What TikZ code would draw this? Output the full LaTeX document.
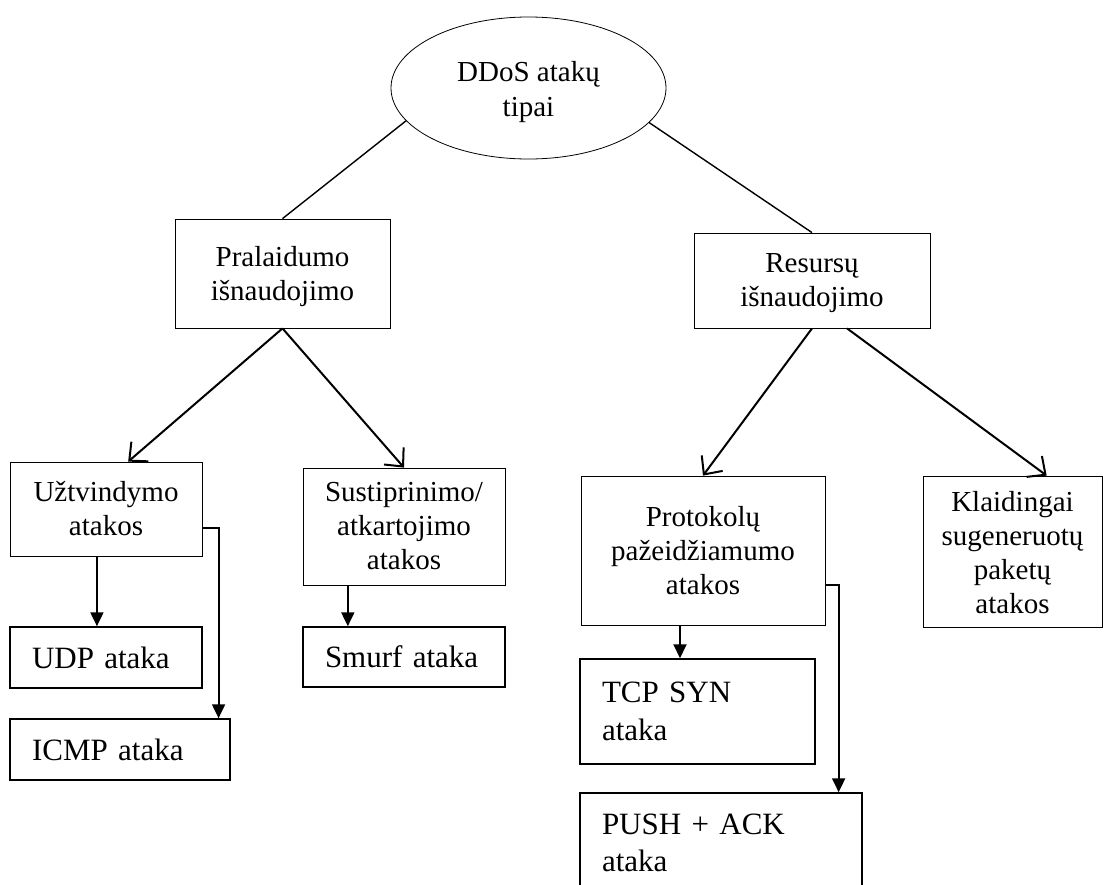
\documentclass[tikz,border=0pt]{standalone}
\usepackage{fontspec}
\setmainfont{Liberation Serif}
\usetikzlibrary{arrows.meta,shapes.geometric,calc}
% invisible strut that lowers a centred text block inside its box
\newcommand{\padtop}[1]{\rule{0pt}{#1}}
\begin{document}
\begin{tikzpicture}[x=1pt,y=-1pt,
  txtbox/.style={draw, line width=0.8pt, rectangle, align=center, inner sep=0pt,
    font=\fontsize{29}{34}\selectfont},
  leaf/.style={draw, line width=1.5pt, rectangle, align=left, inner xsep=22pt, inner ysep=0pt,
    font=\fontsize{31}{38}\selectfont},
  link/.style={line width=1.4pt},
  barb/.style={line width=2pt, -{Straight Barb[length=14pt,width=26pt,line width=2pt]}},
  tri/.style={line width=2pt, -{Triangle[length=14pt,width=13pt]}},
]
\clip (0,0) rectangle (1106,884);
\fill[white] (0,0) rectangle (1106,884);

% root
\node[ellipse, draw, line width=0.8pt, minimum width=275pt, minimum height=142pt, inner sep=0pt] (root) at (528.5,88) {};
\node[align=center, inner sep=0pt, font=\fontsize{29}{35}\selectfont] (roottext) at (528.5,92) {DDoS atakų\\tipai};

% second level
\node[txtbox, minimum width=215pt, minimum height=109pt] (pral) at (282.5,273.5) {\padtop{27pt}Pralaidumo\\išnaudojimo};
\node[txtbox, minimum width=236pt, minimum height=95pt] (res) at (812,280.5) {\padtop{23.5pt}Resursų\\išnaudojimo};

% third level
\node[txtbox, minimum width=192pt, minimum height=94pt] (utv) at (106,509) {Užtvindymo\\atakos};
\node[txtbox, minimum width=202pt, minimum height=117pt] (sus) at (404,526.5) {Sustiprinimo/\\atkartojimo\\atakos};
\node[txtbox, minimum width=244pt, minimum height=149pt] (prot) at (703,550.5) {Protokolų\\pažeidžiamumo\\atakos};
\node[txtbox, minimum width=179pt, minimum height=151pt] (klai) at (1012.5,551.5) {\padtop{23pt}Klaidingai\\sugeneruotų\\paketų\\atakos};

% leaves
\node[leaf, text width=148pt, minimum height=61pt] (udp) at (106,657.5) {UDP ataka};
\node[leaf, text width=176pt, minimum height=61pt] (icmp) at (120,749.5) {ICMP ataka};
\node[leaf, text width=158pt, minimum height=60pt] (smurf) at (404,657) {Smurf ataka};
\node[leaf, text width=191pt, minimum height=105pt] (tcp) at (697.5,711.5) {TCP SYN\\ataka};
\node[leaf, text width=238pt, minimum height=100pt, font=\fontsize{31}{37}\selectfont] (push) at (721,843) {PUSH + ACK\\ataka};

% root to second level
\draw[link] (root.195.7) -- (pral.north);
\draw[link] (root.344.3) -- (res.north);

% second to third level
\draw[barb] (pral.south) -- ($(utv.north west)!0.615!(utv.north east)$);
\draw[barb] (pral.south) -- (sus.north);
\draw[barb] (res.south) -- (prot.north);
\draw[barb] ($(res.south west)!0.648!(res.south east)$) -- ($(klai.north west)!0.69!(klai.north east)$);

% third level to leaves
\coordinate (u1) at ($(utv.south west)!0.453!(utv.south east)$);
\draw[tri] (u1) -- (u1 |- udp.north);
\coordinate (u2) at ($(utv.north east)!0.70!(utv.south east)$);
\coordinate (u3) at ($(icmp.north west)!0.945!(icmp.north east)$);
\draw[tri] (u2) -| (u3);
\coordinate (s1) at ($(sus.south west)!0.223!(sus.south east)$);
\draw[tri] (s1) -- (s1 |- smurf.north);
\coordinate (p1) at ($(prot.south west)!0.406!(prot.south east)$);
\draw[tri] (p1) -- (p1 |- tcp.north);
\coordinate (p2) at ($(prot.north east)!0.73!(prot.south east)$);
\coordinate (p3) at ($(push.north west)!0.915!(push.north east)$);
\draw[tri] (p2) -| (p3);
\end{tikzpicture}
\end{document}
